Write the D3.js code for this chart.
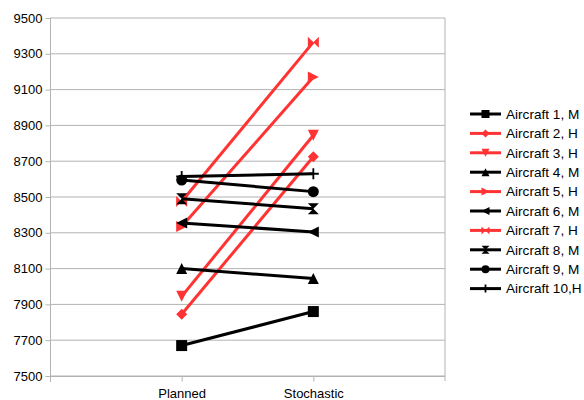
<!DOCTYPE html>
<html>
<head>
<meta charset="utf-8">
<script src="https://cdn.jsdelivr.net/npm/d3@7"></script>
<style>
body { margin: 0; background: #fff; }
text { font-family: "Liberation Sans", Arial, sans-serif; }
</style>
</head>
<body>
<div id="chart"></div>
<script>
var svgWidth = 584;
var svgHeight = 400;

// data
var categories = ["Planned", "Stochastic"];
var seriesNames = ["Aircraft 1, M", "Aircraft 2, H", "Aircraft 3, H", "Aircraft 4, M", "Aircraft 5, H",
    "Aircraft 6, M", "Aircraft 7, H", "Aircraft 8, M", "Aircraft 9, M", "Aircraft 10,H"];
var plannedValues = [7670, 7845, 7945, 8100, 8335, 8355, 8475, 8490, 8595, 8615];
var stochasticValues = [7860, 8725, 8845, 8045, 9170, 8305, 9365, 8435, 8530, 8630];
var seriesKind = ["M", "H", "H", "M", "H", "M", "H", "M", "M", "H2"];
var yTicks = [7500, 7700, 7900, 8100, 8300, 8500, 8700, 8900, 9100, 9300, 9500];

var margin = { top: 18, right: 139, bottom: 24, left: 50 };
var width = svgWidth - margin.left - margin.right;
var height = svgHeight - margin.top - margin.bottom;

var red = "#ff3333";
var colorFor = function (i) { return seriesKind[i] === "H" ? red : "#000"; };

var svg = d3.select("#chart").append("svg")
    .attr("width", svgWidth)
    .attr("height", svgHeight);

var chartGroup = svg.append("g")
    .attr("transform", `translate(${margin.left}, ${margin.top})`);

var xScale = d3.scalePoint().domain(categories).range([0, width]).padding(1);
var yScale = d3.scaleLinear().domain([7500, 9500]).range([height, 0]);

// grid
chartGroup.selectAll(".grid").data(yTicks).enter().append("line")
    .attr("x1", 0).attr("x2", width)
    .attr("y1", d => yScale(d)).attr("y2", d => yScale(d))
    .attr("stroke", "#b3b3b3").attr("stroke-width", 1);

// right border
chartGroup.append("line")
    .attr("x1", width).attr("x2", width).attr("y1", 0).attr("y2", height + 5)
    .attr("stroke", "#b3b3b3");

// y axis
var leftAxis = d3.axisLeft(yScale).tickValues(yTicks).tickSize(5).tickPadding(3).tickFormat(d3.format("d"));
var yAxisG = chartGroup.append("g").attr("transform", "translate(0.5,0)").call(leftAxis);
yAxisG.select(".domain").attr("stroke", "#b3b3b3").attr("d", `M0,0V${height + 6}`);
yAxisG.selectAll(".tick line").attr("stroke", "#b3b3b3");
yAxisG.selectAll("text").attr("font-size", 13).attr("fill", "#000").attr("font-family", "Liberation Sans, Arial, sans-serif");

// x axis
var bottomAxis = d3.axisBottom(xScale).tickSize(5).tickPadding(7);
var xAxisG = chartGroup.append("g").attr("transform", `translate(0, ${height + 0.5})`).call(bottomAxis);
xAxisG.select(".domain").attr("stroke", "#b3b3b3").attr("d", `M0,0H${width}`);
xAxisG.selectAll(".tick line").attr("stroke", "#b3b3b3");
xAxisG.selectAll("text").attr("font-size", 13).attr("fill", "#000").attr("font-family", "Liberation Sans, Arial, sans-serif");

// marker shapes
function markerPath(i, s) {
    var h = s / 2;
    switch (i) {
        case 0: return `M${-h},${-h}H${h}V${h}H${-h}Z`;
        case 1: return `M0,${-h}L${h},0L0,${h}L${-h},0Z`;
        case 2: return `M${-h},${-h}H${h}L0,${h}Z`;
        case 3: return `M${-h},${h}H${h}L0,${-h}Z`;
        case 4: return `M${-h},${-h}V${h}L${h},0Z`;
        case 5: return `M${h},${-h}V${h}L${-h},0Z`;
        case 6: return `M${-h},${-h}V${h}L0,0Z M${h},${-h}V${h}L0,0Z`;
        case 7: return `M${-h},${-h}H${h}L0,0Z M${-h},${h}H${h}L0,0Z`;
        case 8: return d3.symbol(d3.symbolCircle, s * s * 0.785)();
        default: return `M${-h},-0.9H${h}V0.9H${-h}Z M-0.9,${-h}H0.9V${h}H-0.9Z`;
    }
}

var series = seriesNames.map(function (name, i) {
    return { name: name, i: i, values: [plannedValues[i], stochasticValues[i]] };
});

var lineGen = d3.line().x((d, j) => xScale(categories[j])).y(d => yScale(d));

var seriesG = chartGroup.selectAll(".series").data(series).enter().append("g");
seriesG.append("path")
    .attr("d", d => lineGen(d.values))
    .attr("fill", "none")
    .attr("stroke", d => colorFor(d.i))
    .attr("stroke-width", 3);
seriesG.each(function (d) {
    d3.select(this).selectAll(".pt").data(d.values).enter().append("path")
        .attr("transform", (v, j) => `translate(${xScale(categories[j])},${yScale(v)})`)
        .attr("d", markerPath(d.i, 11))
        .attr("fill", colorFor(d.i));
});

// legend
var legend = svg.append("g").attr("transform", "translate(470, 114)");
var legendItem = legend.selectAll(".li").data(series).enter().append("g")
    .attr("transform", (d, k) => `translate(0, ${k * 19.4})`);
legendItem.append("line")
    .attr("x1", 0).attr("x2", 31).attr("y1", 0).attr("y2", 0)
    .attr("stroke", d => colorFor(d.i)).attr("stroke-width", 3);
legendItem.append("path")
    .attr("transform", "translate(15.5,0)")
    .attr("d", d => markerPath(d.i, 8))
    .attr("fill", d => colorFor(d.i));
legendItem.append("text")
    .attr("x", 36).attr("y", 0).attr("dy", "0.35em")
    .attr("font-size", 13.6)
    .text(d => d.name);
</script>
</body>
</html>
